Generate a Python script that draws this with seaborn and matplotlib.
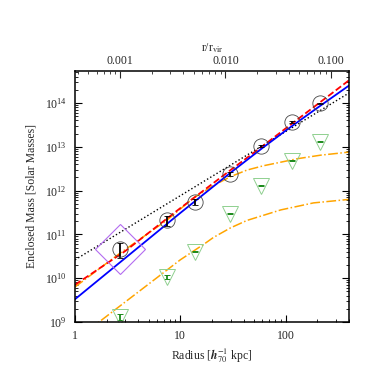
import numpy as np
import pandas as pd
import matplotlib
matplotlib.use('Agg')
import matplotlib.pyplot as plt
from matplotlib.ticker import LogLocator, FixedLocator, FuncFormatter, NullFormatter
import seaborn as sns

# data (radius in h70^-1 kpc, mass in solar masses)
radius_pts = [2.68, 7.48, 13.9, 29.9, 58.5, 116, 211]
mass_total = [4.7e10, 2.14e11, 5.5e11, 2.4e12, 1.05e13, 3.7e13, 1.0e14]
err_total = [1.8e10, 5.5e10, 9e10, 2.5e11, 5e11, 1.5e12, 3e12]
mass_gas = [1.32e9, 1.07e10, 4.07e10, 2.95e11, 1.29e12, 4.8e12, 1.32e13]
err_gas = [2.2e8, 1.3e9, 2e9, 8e9, 3e10, 1e11, 3e11]
diamond_r = [2.68]
diamond_m = [4.7e10]

r_curve = [1, 3, 10, 30, 60, 100, 200, 400]
logm_blue = [9.52, 10.46, 11.49, 12.41, 12.97, 13.37, 13.89, 14.40]
logm_red = [9.85, 10.62, 11.60, 12.47, 13.01, 13.42, 13.97, 14.52]
r_orange1 = [1, 2.6, 7.5, 13.3, 20.8, 30, 43, 62, 90, 130, 215, 400]
logm_orange1 = [9.80, 10.55, 11.33, 11.83, 12.12, 12.32, 12.47, 12.57, 12.65, 12.73, 12.81, 12.88]
r_orange2 = [1, 1.55, 10, 17.3, 20.6, 30, 43, 90, 184, 400]
logm_orange2 = [8.6, 8.93, 10.42, 10.80, 10.93, 11.15, 11.32, 11.56, 11.72, 11.80]
r_dot = [1, 400]
logm_dot = [10.42, 14.23]

r_vir = 2680.0

sns.set_theme(style='ticks')
plt.rcParams['font.family'] = ['Liberation Serif', 'DejaVu Serif']
plt.rcParams['mathtext.fontset'] = 'stix'
plt.rcParams['font.size'] = 8.5

fig = plt.figure(figsize=(3.71, 3.71), dpi=100)
ax = fig.add_axes([75/371, 1-322/371, 274/371, 251/371])
ax.set_xscale('log')
ax.set_yscale('log')

# model curves
sns.lineplot(x=r_orange1, y=10**np.array(logm_orange1), ax=ax, color='orange', linestyle='-.', lw=1.1)
sns.lineplot(x=r_orange2, y=10**np.array(logm_orange2), ax=ax, color='orange', linestyle='-.', lw=1.1)
sns.lineplot(x=r_dot, y=10**np.array(logm_dot), ax=ax, color='black', linestyle=':', lw=1.0)
sns.lineplot(x=r_curve, y=10**np.array(logm_red), ax=ax, color='red', linestyle='--', lw=1.3)
sns.lineplot(x=r_curve, y=10**np.array(logm_blue), ax=ax, color='blue', linestyle='-', lw=1.3)

# data points
ax.errorbar(radius_pts, mass_gas, yerr=err_gas, fmt='v', ms=11, mfc='none', mec='#8fd08f', mew=0.7,
            ecolor='#1a8a1a', elinewidth=1.3, capsize=2, capthick=1.3)
ax.errorbar(radius_pts, mass_total, yerr=err_total, fmt='o', ms=11, mfc='none', mec='#444444', mew=0.6,
            ecolor='black', elinewidth=1.3, capsize=2, capthick=1.3)
ax.plot(diamond_r, diamond_m, 'D', ms=25, mfc='none', mec='#b36cf0', mew=0.8)

ax.set_xlim(1, 400)
ax.set_ylim(1e9, 5.4e14)
ax.xaxis.set_major_locator(FixedLocator([1, 10, 100]))
ax.xaxis.set_major_formatter(FuncFormatter(lambda v, p: '%g' % v))
ax.xaxis.set_minor_locator(LogLocator(base=10, subs=np.arange(2, 10), numticks=100))
ax.xaxis.set_minor_formatter(NullFormatter())
ax.yaxis.set_major_locator(LogLocator(base=10, numticks=20))
ax.yaxis.set_minor_locator(LogLocator(base=10, subs=np.arange(2, 10), numticks=100))
ax.yaxis.set_minor_formatter(NullFormatter())
ax.tick_params(which='both', direction='in', top=False, right=True, color='black', labelsize=8.5, pad=6)
ax.tick_params(which='major', length=5, width=0.8)
ax.tick_params(which='minor', length=2.5, width=0.6)
for s in ax.spines.values():
    s.set_linewidth(1.1)
    s.set_color('black')

ax.set_xlabel(r'Radius [$\mathbfit{h}_{70}^{-1}$ kpc]', fontsize=8.5, labelpad=3)
ax.set_ylabel('Enclosed Mass [Solar Masses]', fontsize=8.5, labelpad=5)

# top axis in units of r/r_vir
ax2 = ax.twiny()
ax2.set_xscale('log')
ax2.set_xlim(1/r_vir, 400/r_vir)
ax2.xaxis.set_major_locator(FixedLocator([0.001, 0.01, 0.1]))
ax2.xaxis.set_major_formatter(FuncFormatter(lambda v, p: '%.3f' % v))
ax2.xaxis.set_minor_locator(LogLocator(base=10, subs=np.arange(2, 10), numticks=100))
ax2.xaxis.set_minor_formatter(NullFormatter())
ax2.tick_params(which='both', direction='in', labelsize=8.5, pad=3)
ax2.tick_params(which='major', length=5, width=0.8)
ax2.tick_params(which='minor', length=2.5, width=0.6)
ax2.set_xlabel(r'r/r$_{\mathrm{vir}}$', fontsize=8.5, labelpad=2.5)
for s in ax2.spines.values():
    s.set_visible(False)

plt.savefig('out.png', dpi=100)
